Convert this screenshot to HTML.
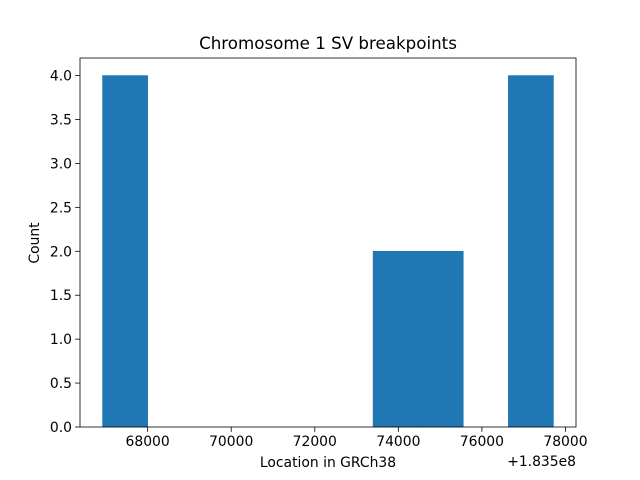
<!DOCTYPE html>
<html><head><meta charset="utf-8"><style>
body{margin:0;background:#fff;}
svg{display:block;font-family:"DejaVu Sans","Liberation Sans",sans-serif;}
</style></head><body>
<svg id="chart" width="640" height="480" xmlns="http://www.w3.org/2000/svg">
<rect width="640" height="480" fill="#fff"/>
<text x="328" y="49" text-anchor="middle" font-size="16.7">Chromosome 1 SV breakpoints</text>
<g id="bars"></g>
<g id="axes"></g>
<text x="328" y="467" text-anchor="middle" font-size="13.9">Location in GRCh38</text>
<text x="576" y="466" text-anchor="end" font-size="13.9">+1.835e8</text>
<text transform="translate(39,243) rotate(-90)" text-anchor="middle" font-size="13.9">Count</text>
</svg>
<script>
const binStart = 66921;
const binEnd = 77712;
const counts = [4,0,0,0,0,0,2,2,0,4];
const xTicks = [68000,70000,72000,74000,76000,78000];
const yTicks = [0,0.5,1.0,1.5,2.0,2.5,3.0,3.5,4.0];
const X0=80,X1=576,Y0=427,Y1=58;
const xmin=66381,xmax=78252,ymax=4.2;
function sx(v){return X0+(v-xmin)/(xmax-xmin)*(X1-X0);}
function sy(v){return Y0-v/ymax*(Y0-Y1);}
const NS="http://www.w3.org/2000/svg";
const bars=document.getElementById('bars'),axes=document.getElementById('axes');
function mk(tag,attrs,parent){const e=document.createElementNS(NS,tag);for(const k in attrs)e.setAttribute(k,attrs[k]);parent.appendChild(e);return e;}
const bw=(binEnd-binStart)/counts.length;
counts.forEach((c,i)=>{if(!c)return;
 const a=sx(binStart+i*bw),b=sx(binStart+(i+1)*bw);
 const r=mk('rect',{x:a,y:sy(c),width:b-a,height:sy(0)-sy(c),fill:'#1f77b4',stroke:'#1f77b4','stroke-width':0.6},bars);
 
 
});
const frame=mk('rect',{x:X0,y:Y1,width:X1-X0,height:Y0-Y1,fill:'none',stroke:'#000','stroke-width':0.8},axes);


xTicks.forEach(t=>{const x=sx(t);
 mk('line',{x1:x,x2:x,y1:Y0,y2:Y0+4.9,stroke:'#000','stroke-width':0.8},axes);
 const tx=mk('text',{x:x,y:Y0+19,'text-anchor':'middle','font-size':13.9},axes);tx.textContent=t;
 
 
});
yTicks.forEach(t=>{const y=sy(t);
 mk('line',{x1:X0-4.9,x2:X0,y1:y,y2:y,stroke:'#000','stroke-width':0.8},axes);
 const tx=mk('text',{x:X0-8,y:y+5,'text-anchor':'end','font-size':13.9},axes);tx.textContent=t.toFixed(1);
 
 
});
</script>
</body></html>
